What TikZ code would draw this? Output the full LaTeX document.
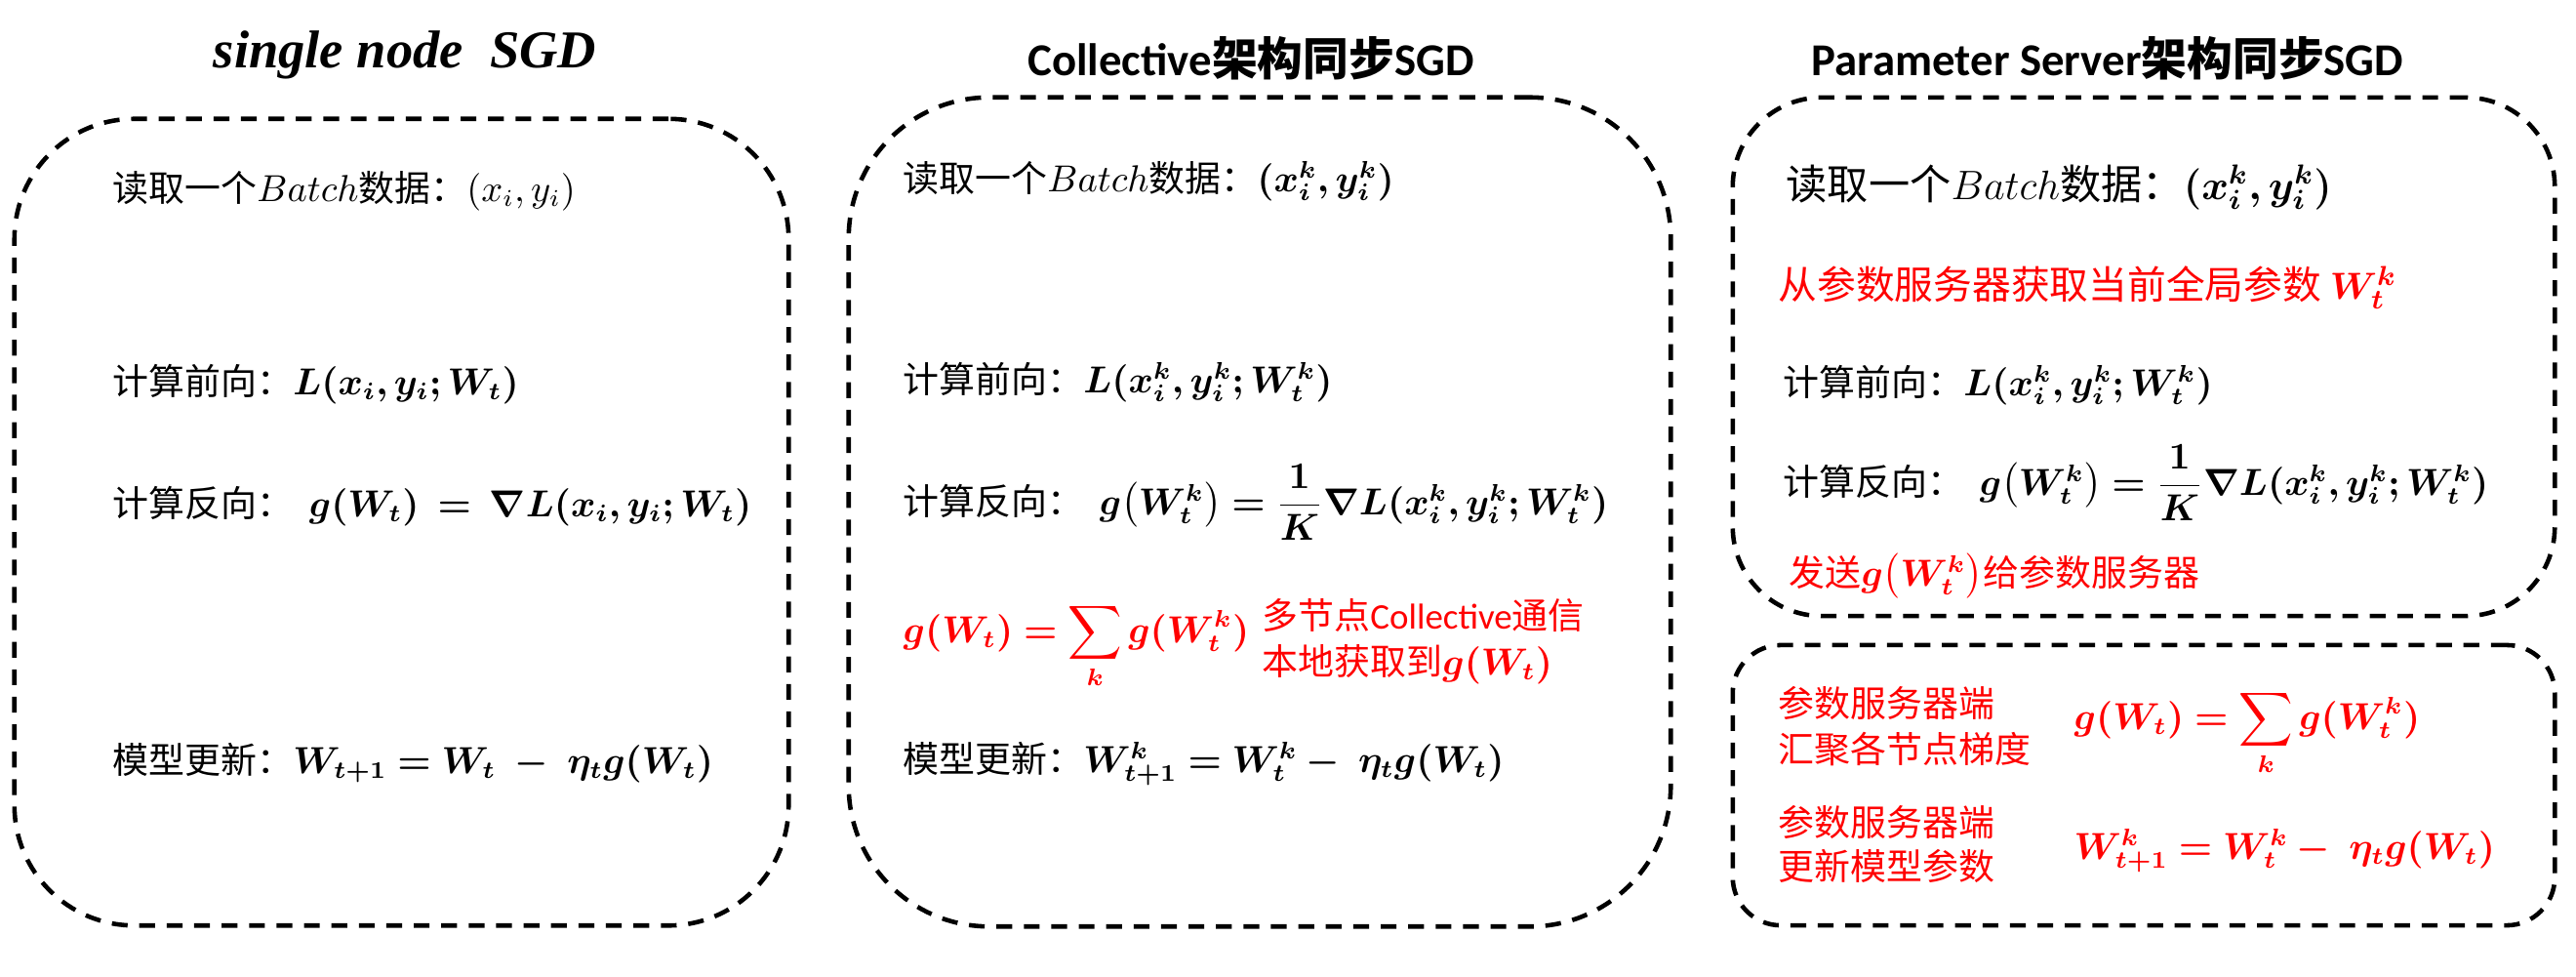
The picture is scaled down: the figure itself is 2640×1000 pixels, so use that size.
\documentclass[tikz,border=0pt]{standalone}
\usepackage[no-math]{fontspec}
\usepackage{amsmath}
\usepackage{bm}
\setmainfont{Noto Sans CJK SC}
\newfontfamily\lat{Carlito}
\newfontfamily\lsb{Liberation Serif}
\definecolor{pred}{RGB}{255,0,0}
\tikzset{
  box/.style={draw=black, line width=1.3pt, dash pattern=on 4.6pt off 3.4pt, inner sep=0pt},
  txt/.style={anchor=base west, inner sep=0pt, font=\fontsize{10.5}{13}\selectfont},
  rtxt/.style={txt, text=pred},
  ttl/.style={anchor=center, inner sep=0pt, font=\fontsize{13.3}{16}\selectfont\bfseries},
}
\begin{document}
\begin{tikzpicture}[x=0.01cm,y=-0.01cm]
\useasboundingbox (0,0) rectangle (2640,1000);
% boxes
\node[box, minimum width=7.93cm, minimum height=8.26cm, rounded corners=35pt] (B1) at (411.5,535) {};
\node[box, minimum width=8.42cm, minimum height=8.49cm, rounded corners=41pt] (B2) at (1291,524.5) {};
\node[box, minimum width=8.42cm, minimum height=5.31cm, rounded corners=26pt] (B3) at (2197,365.5) {};
\node[box, minimum width=8.42cm, minimum height=2.87cm, rounded corners=14pt] (B4) at (2197,804.5) {};
% titles
\node[ttl, font=\lsb\fontsize{15.5}{18}\selectfont\bfseries\itshape] (T1) at (415,56) {single node\ \ SGD};
\node[ttl] (T2) at (1282,60) {{\lat Collective}架构同步{\lat SGD}};
\node[ttl] (T3) at (2160,60) {{\lat Parameter Server}架构同步{\lat SGD}};
% box 1
\node[txt] (a1) at (115,206) {读取一个$Batch$数据：$(x_i, y_i)$};
\node[txt] (a2) at (115,404) {计算前向：$\bm{L(x_i, y_i; W_t)}$};
\node[txt] (a3) at (115,529) {计算反向：\ \ $\bm{g(W_t)}\ \bm{=}\ \bm{\nabla L(x_i, y_i; W_t)}$};
\node[txt] (a4) at (115,792) {模型更新：$\bm{W_{t+1}} \bm{=} \bm{W_t}\;\bm{-}\;\bm{\eta_t g(W_t)}$};
% box 2
\node[txt] (b1) at (925,196) {读取一个$Batch$数据：$\bm{(x_i^k, y_i^k)}$};
\node[txt] (b2) at (925,402) {计算前向：$\bm{L(x_i^k, y_i^k; W_t^k)}$};
\node[txt] (b3) at (925,527) {计算反向：\ \ $\bm{g}\bigl(\bm{W_t^k}\bigr) \bm{=} \dfrac{\bm{1}}{\bm{K}}\bm{\nabla L(x_i^k, y_i^k; W_t^k)}$};
\node[rtxt] (b4) at (925,658) {$\displaystyle \bm{g(W_t)} \bm{=} \sum_{\bm{k}}\bm{g(W_t^k)}$};
\node[rtxt] (b5) at (1293,644) {多节点{\lat Collective}通信};
\node[rtxt] (b6) at (1293,691) {本地获取到$\bm{g(W_t)}$};
\node[txt] (b7) at (925,791) {模型更新：$\bm{W_{t+1}^k} \bm{=} \bm{W_t^k}\bm{-}\;\bm{\eta_t g(W_t)}$};
% box 3
\node[txt, font=\fontsize{12}{14}\selectfont] (c1) at (1830,204) {读取一个$Batch$数据：$\bm{(x_i^k, y_i^k)}$};
\node[rtxt, font=\fontsize{11.3}{14}\selectfont] (c2) at (1822,306) {从参数服务器获取当前全局参数 $\bm{W_t^k}$};
\node[txt] (c3) at (1827,405) {计算前向：$\bm{L(x_i^k, y_i^k; W_t^k)}$};
\node[txt] (c4) at (1827,507) {计算反向：\ \ $\bm{g}\bigl(\bm{W_t^k}\bigr) \bm{=} \dfrac{\bm{1}}{\bm{K}}\bm{\nabla L(x_i^k, y_i^k; W_t^k)}$};
\node[rtxt] (c5) at (1833,600) {发送$\bm{g}\bigl(\bm{W_t^k}\bigr)$给参数服务器};
% box 4
\node[rtxt] (d1) at (1822,734) {参数服务器端};
\node[rtxt] (d2) at (1822,781) {汇聚各节点梯度};
\node[rtxt] (d3) at (2125,747) {$\displaystyle \bm{g(W_t)} \bm{=} \sum_{\bm{k}}\bm{g(W_t^k)}$};
\node[rtxt] (d4) at (1822,856) {参数服务器端};
\node[rtxt] (d5) at (1822,901) {更新模型参数};
\node[rtxt] (d6) at (2125,880) {$\bm{W_{t+1}^k} \bm{=} \bm{W_t^k}\bm{-}\;\bm{\eta_t g(W_t)}$};
\end{tikzpicture}
\end{document}
